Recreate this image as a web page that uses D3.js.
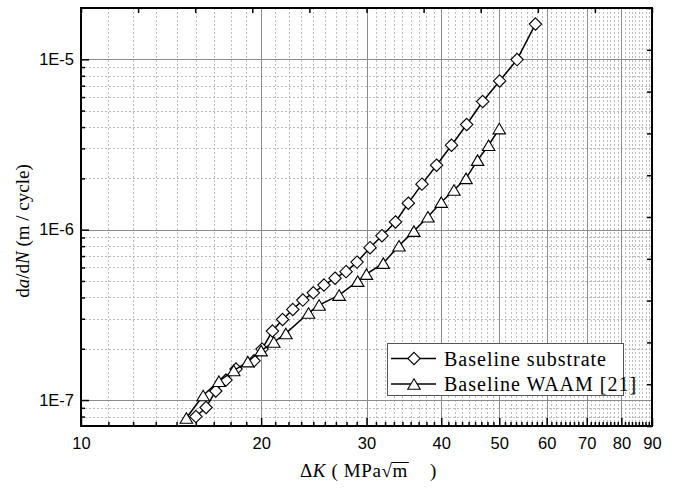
<!DOCTYPE html>
<html>
<head>
<meta charset="utf-8">
<script src="https://cdn.jsdelivr.net/npm/d3@7"></script>
<style>
  body { margin: 0; background: #fff; }
  svg { display: block; }
</style>
</head>
<body>
<script>
// Data
var kSubstrate = [15.56, 16.18, 16.80, 17.47, 18.16, 19.46, 20.07, 20.89, 21.72, 22.59, 23.48, 24.45, 25.47, 26.58,
                  27.73, 28.93, 30.41, 31.84, 33.54, 35.24, 37.14, 39.28, 41.61, 44.11, 46.91, 50.08, 53.55, 57.47];
var rateSubstrate = [8.00e-8, 9.04e-8, 1.13e-7, 1.31e-7, 1.52e-7, 1.70e-7, 1.99e-7, 2.54e-7, 2.97e-7, 3.40e-7, 3.86e-7, 4.26e-7, 4.73e-7, 5.19e-7,
                     5.67e-7, 6.45e-7, 7.84e-7, 9.22e-7, 1.11e-6, 1.43e-6, 1.85e-6, 2.39e-6, 3.13e-6, 4.14e-6, 5.65e-6, 7.46e-6, 9.96e-6, 1.61e-5];

var kWaam = [15, 16, 17, 18, 19, 20, 21, 22, 24, 25, 27, 29, 30, 32, 34, 36, 38, 40, 42, 44, 46, 48, 50];
var rateWaam = [7.84e-8, 1.063e-7, 1.29e-7, 1.49e-7, 1.68e-7, 1.95e-7, 2.19e-7, 2.46e-7, 3.24e-7, 3.61e-7, 4.13e-7, 4.99e-7, 5.48e-7,
                6.36e-7, 8.04e-7, 9.80e-7, 1.19e-6, 1.45e-6, 1.71e-6, 2.00e-6, 2.56e-6, 3.13e-6, 3.92e-6];

var seriesNames = ['Baseline substrate', 'Baseline WAAM [21]'];
var xTickValues = [10, 20, 30, 40, 50, 60, 70, 80, 90];
var yTickValues = [1e-7, 1e-6, 1e-5];

// Layout (plot box)
var w = 678, h = 489;
var padL = 81, padR = 652, padT = 8, padB = 426;

var svg = d3.select('body').append('svg')
            .attr('width', w)
            .attr('height', h);

var xScale = d3.scaleLog().domain([10, 90]).range([padL, padR]);
var yScale = d3.scaleLog().domain([7.04e-8, 2e-5]).range([padB, padT]);

// minor values: 8 linear steps between each x major, 2..9 per y decade
var xMinor = [];
for (var i = 0; i < xTickValues.length - 1; i++) {
  for (var j = 1; j < 9; j++) {
    xMinor.push(xTickValues[i] + (xTickValues[i + 1] - xTickValues[i]) * j / 9);
  }
}
var yMinor = [];
[-8, -7, -6, -5].forEach(function(e) {
  for (var m = 2; m < 10; m++) {
    var v = m * Math.pow(10, e);
    if (v > yScale.domain()[0] && v < yScale.domain()[1]) yMinor.push(v);
  }
});

// Grid
var grid = svg.append('g');
grid.selectAll('.xminor').data(xMinor).enter().append('line')
    .attr('x1', function(d) { return Math.round(xScale(d)) + 0.5; })
    .attr('x2', function(d) { return Math.round(xScale(d)) + 0.5; })
    .attr('y1', padT).attr('y2', padB)
    .attr('stroke', '#bdbdbd').attr('stroke-dasharray', '2,2');
grid.selectAll('.yminor').data(yMinor).enter().append('line')
    .attr('y1', function(d) { return Math.round(yScale(d)) + 0.5; })
    .attr('y2', function(d) { return Math.round(yScale(d)) + 0.5; })
    .attr('x1', padL).attr('x2', padR)
    .attr('stroke', '#bdbdbd').attr('stroke-dasharray', '2,2');
grid.selectAll('.xmajor').data(xTickValues.slice(1, -1)).enter().append('line')
    .attr('x1', function(d) { return Math.round(xScale(d)) + 0.5; })
    .attr('x2', function(d) { return Math.round(xScale(d)) + 0.5; })
    .attr('y1', padT).attr('y2', padB)
    .attr('stroke', '#8c8c8c');
grid.selectAll('.ymajor').data(yTickValues).enter().append('line')
    .attr('y1', function(d) { return Math.round(yScale(d)) + 0.5; })
    .attr('y2', function(d) { return Math.round(yScale(d)) + 0.5; })
    .attr('x1', padL).attr('x2', padR)
    .attr('stroke', '#8c8c8c');

// Markers
function diamond(s) {
  return 'M0,' + (-s) + 'L' + s + ',0L0,' + s + 'L' + (-s) + ',0Z';
}
function triangle(wd, ht) {
  return 'M0,' + (-ht / 2) + 'L' + (wd / 2) + ',' + (ht / 2) + 'L' + (-wd / 2) + ',' + (ht / 2) + 'Z';
}

var series = [
  { k: kSubstrate, r: rateSubstrate, shape: diamond(6.2) },
  { k: kWaam, r: rateWaam, shape: triangle(12.5, 10.5) }
];

var line = d3.line()
             .x(function(d) { return xScale(d[0]); })
             .y(function(d) { return yScale(d[1]); });

series.forEach(function(s) {
  var pts = d3.zip(s.k, s.r);
  svg.append('path')
     .datum(pts)
     .attr('d', line)
     .attr('fill', 'none')
     .attr('stroke', '#000')
     .attr('stroke-width', 1.5);
  svg.append('g').selectAll('path')
     .data(pts)
     .enter()
     .append('path')
     .attr('transform', function(d) { return 'translate(' + xScale(d[0]) + ',' + yScale(d[1]) + ')'; })
     .attr('d', s.shape)
     .attr('fill', '#fff')
     .attr('stroke', '#000')
     .attr('stroke-width', 1.1);
});

// Legend
var legend = svg.append('g');
legend.append('rect')
      .attr('x', 387.5).attr('y', 343.5)
      .attr('width', 236).attr('height', 52)
      .attr('fill', '#fff')
      .attr('stroke', '#555');
series.forEach(function(s, i) {
  var ly = 358.5 + i * 25.5;
  legend.append('line')
        .attr('x1', 391).attr('x2', 436)
        .attr('y1', ly).attr('y2', ly)
        .attr('stroke', '#000').attr('stroke-width', 1.5);
  legend.append('path')
        .attr('transform', 'translate(414,' + ly + ')')
        .attr('d', s.shape)
        .attr('fill', '#fff').attr('stroke', '#000').attr('stroke-width', 1.1);
  legend.append('text')
        .attr('x', 444).attr('y', ly + 7)
        .attr('font-family', '"Liberation Serif", "Times New Roman", serif')
        .attr('font-size', '20px')
        .attr('letter-spacing', '1px')
        .text(seriesNames[i]);
});

// Axes
var tickFont = '"Liberation Sans", Arial, sans-serif';

var xAxis = d3.axisBottom(xScale)
              .tickValues(xTickValues)
              .tickFormat(d3.format('d'))
              .tickSize(-8)
              .tickPadding(11);
var xAxisMinor = d3.axisBottom(xScale).tickValues(xMinor).tickFormat('').tickSize(-4);

var yAxis = d3.axisLeft(yScale)
              .tickValues(yTickValues)
              .tickFormat(function(d) { return '1E' + Math.round(Math.log10(d)); })
              .tickSize(-8)
              .tickPadding(7);
var yAxisMinor = d3.axisLeft(yScale).tickValues(yMinor).tickFormat('').tickSize(-4);

// mirror axes (linear ticks only)
var topScale = d3.scaleLinear().domain([0, 10]).range([padL, padR]);
var rightScale = d3.scaleLinear().domain([0, 10]).range([padB, padT]);

function styleAxis(g) {
  g.select('.domain').remove();
  g.selectAll('.tick line').attr('stroke', '#000').attr('stroke-width', 1.5);
  g.selectAll('.tick text')
   .attr('font-family', tickFont)
   .attr('font-size', '16.5px')
   .attr('fill', '#000');
}

svg.append('g').attr('transform', 'translate(0,' + padB + ')').call(xAxis).call(styleAxis);
svg.append('g').attr('transform', 'translate(0,' + padB + ')').call(xAxisMinor).call(styleAxis);
svg.append('g').attr('transform', 'translate(' + padL + ',0)').call(yAxis).call(styleAxis);
svg.append('g').attr('transform', 'translate(' + padL + ',0)').call(yAxisMinor).call(styleAxis);
svg.append('g').attr('transform', 'translate(0,' + padT + ')')
   .call(d3.axisTop(topScale).ticks(10).tickFormat('').tickSize(-5)).call(styleAxis);
svg.append('g').attr('transform', 'translate(' + padR + ',0)')
   .call(d3.axisRight(rightScale).ticks(10).tickFormat('').tickSize(-5)).call(styleAxis);

// Frame
svg.append('rect')
   .attr('x', padL).attr('y', padT)
   .attr('width', padR - padL).attr('height', padB - padT)
   .attr('fill', 'none')
   .attr('stroke', '#000')
   .attr('stroke-width', 2);

// Axis titles
var serif = '"Liberation Serif", "Times New Roman", serif';

var yTitle = svg.append('text')
   .attr('transform', 'translate(29,231) rotate(-90)')
   .attr('text-anchor', 'middle')
   .attr('font-family', serif)
   .attr('font-size', '19px');
yTitle.append('tspan').text('d');
yTitle.append('tspan').attr('font-style', 'italic').text('a');
yTitle.append('tspan').text('/d');
yTitle.append('tspan').attr('font-style', 'italic').text('N');
yTitle.append('tspan').text(' (m / cycle)');

var xTitle = svg.append('text')
   .attr('x', 300).attr('y', 477)
   .attr('font-family', serif)
   .attr('font-size', '19px')
   .attr('letter-spacing', '0.6px');
xTitle.append('tspan').text('\u0394');
xTitle.append('tspan').attr('font-style', 'italic').text('K');
xTitle.append('tspan').text(' ( MPa\u221A');
xTitle.append('tspan').text('m');
xTitle.append('tspan').attr('x', 430).text(')');

// overline of the radical across the m
var full = xTitle.node().textContent;
var ext = xTitle.node().getExtentOfChar(full.indexOf('m'));
var rad = xTitle.node().getExtentOfChar(full.indexOf('\u221A'));
svg.append('line')
   .attr('x1', rad.x + rad.width - 1).attr('x2', ext.x + ext.width + 1)
   .attr('y1', rad.y + 2.5).attr('y2', rad.y + 2.5)
   .attr('stroke', '#000').attr('stroke-width', 1);
</script>
</body>
</html>
